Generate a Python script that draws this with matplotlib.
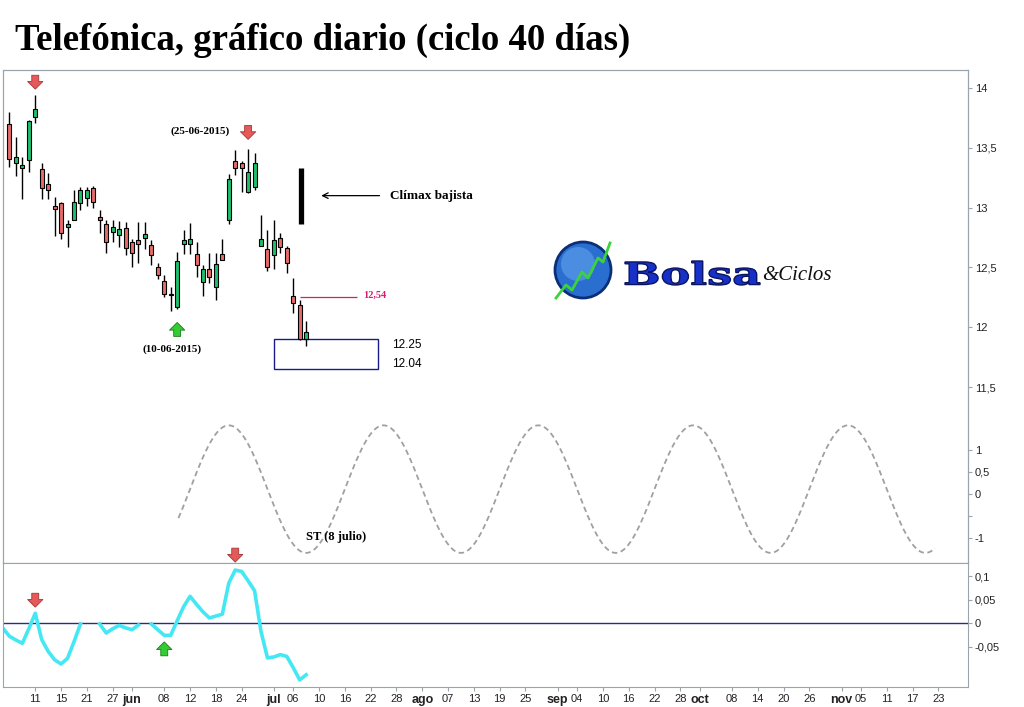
import numpy as np
import pandas as pd
import matplotlib
matplotlib.use("Agg")
import matplotlib.pyplot as plt
from matplotlib.patches import Rectangle, Ellipse, PathPatch
from matplotlib.textpath import TextPath
from matplotlib.font_manager import FontProperties
from matplotlib.transforms import Affine2D
import matplotlib.patheffects as pe

# trading days (business days) used as the x axis
DATES = pd.bdate_range("2015-05-04", "2015-12-31")

# daily candles 05-05-2015 .. 08-07-2015
candle_dates = pd.bdate_range("2015-05-05", "2015-07-08")
opens = [13.70, 13.37, 13.33, 13.40, 13.76, 13.32, 13.20, 13.01, 13.04, 12.84,
         12.90, 13.04, 13.08, 13.16, 12.92, 12.86, 12.80, 12.77, 12.83, 12.71,
         12.73, 12.75, 12.69, 12.50, 12.39, 12.27, 12.17, 12.70, 12.70, 12.61,
         12.38, 12.49, 12.34, 12.61, 12.90, 13.39, 13.37, 13.13, 13.17, 12.68,
         12.65, 12.60, 12.75, 12.66, 12.26, 12.19, 11.90]
highs = [13.80, 13.59, 13.42, 13.73, 13.94, 13.37, 13.29, 13.09, 13.05, 12.90,
         13.15, 13.17, 13.17, 13.18, 12.98, 12.90, 12.90, 12.89, 12.88, 12.74,
         12.88, 12.88, 12.73, 12.54, 12.44, 12.34, 12.63, 12.81, 12.87, 12.71,
         12.52, 12.62, 12.62, 12.74, 13.28, 13.48, 13.39, 13.49, 13.46, 12.94,
         12.81, 12.90, 12.79, 12.68, 12.41, 12.23, 12.05]
lows = [13.34, 13.26, 13.07, 13.30, 13.71, 13.07, 13.07, 12.76, 12.74, 12.67,
        12.90, 12.98, 13.01, 13.00, 12.79, 12.62, 12.71, 12.67, 12.60, 12.50,
        12.54, 12.65, 12.52, 12.40, 12.25, 12.14, 12.15, 12.61, 12.61, 12.42,
        12.26, 12.37, 12.23, 12.56, 12.86, 13.27, 13.13, 13.12, 13.15, 12.68,
        12.47, 12.49, 12.62, 12.45, 12.12, 11.89, 11.84]
closes = [13.41, 13.42, 13.36, 13.72, 13.82, 13.16, 13.15, 12.99, 12.79, 12.86,
          13.05, 13.15, 13.15, 13.05, 12.90, 12.71, 12.84, 12.82, 12.66, 12.62,
          12.70, 12.78, 12.60, 12.44, 12.28, 12.27, 12.55, 12.73, 12.74, 12.52,
          12.49, 12.42, 12.53, 12.56, 13.24, 13.33, 13.33, 13.30, 13.37, 12.74,
          12.50, 12.73, 12.67, 12.54, 12.20, 11.90, 11.96]

# oscillator 04-05-2015 .. 08-07-2015 (nan = line hidden in the original)
osc_dates = pd.bdate_range("2015-05-04", "2015-07-08")
osc_values = [-0.011, -0.028, -0.036, -0.043, -0.012, 0.021, -0.035, -0.060, -0.078,
              -0.087, -0.075, -0.040, -0.002, np.nan, np.nan, -0.002, -0.021, -0.012,
              -0.005, -0.010, -0.014, -0.004, np.nan, -0.002, -0.014, -0.026, -0.026,
              0.005, 0.035, 0.057, 0.040, 0.024, 0.011, 0.015, 0.019, 0.085, 0.113,
              0.110, 0.090, 0.069, -0.018, -0.074, -0.072, -0.067, -0.071, -0.095,
              -0.121, -0.110]

# cycle projection (40 calendar days ~ 24 sessions), trough on 08-07-2015
cycle_bars = 24
cycle_trough = "2015-07-08"
cycle_start, cycle_end = "2015-06-10", "2015-11-20"
cycle_amp, cycle_mid = 1.45, 0.11

tick_dates = ["2015-05-11", "2015-05-15", "2015-05-21", "2015-05-27", "2015-06-01",
              "2015-06-08", "2015-06-12", "2015-06-18", "2015-06-24", "2015-07-01",
              "2015-07-06", "2015-07-10", "2015-07-16", "2015-07-22", "2015-07-28",
              "2015-08-03", "2015-08-07", "2015-08-13", "2015-08-19", "2015-08-25",
              "2015-09-01", "2015-09-04", "2015-09-10", "2015-09-16", "2015-09-22",
              "2015-09-28", "2015-10-01", "2015-10-08", "2015-10-14", "2015-10-20",
              "2015-10-26", "2015-11-02", "2015-11-05", "2015-11-11", "2015-11-17",
              "2015-11-23"]
tick_labels = ["11", "15", "21", "27", "jun", "08", "12", "18", "24", "jul",
               "06", "10", "16", "22", "28", "ago", "07", "13", "19", "25",
               "sep", "04", "10", "16", "22", "28", "oct", "08", "14", "20",
               "26", "nov", "05", "11", "17", "23"]
months = {"jun", "jul", "ago", "sep", "oct", "nov"}

price_ticks = [11.5, 12, 12.5, 13, 13.5, 14]
price_labels = ["11,5", "12", "12,5", "13", "13,5", "14"]
cycle_ticks = [-1, -0.5, 0, 0.5, 1]
cycle_labels = ["-1", "", "0", "0,5", "1"]
osc_ticks = [-0.05, 0, 0.05, 0.1]
osc_labels = ["-0,05", "0", "0,05", "0,1"]


def pos(d):
    return DATES.get_loc(pd.Timestamp(d))


FRAME = "#9aa4ae"
SANS = "Liberation Sans"
SERIF = "Liberation Serif"

fig = plt.figure(figsize=(10.24, 7.07), dpi=100)
W, H = 1024, 707
ax = fig.add_axes([3 / W, (H - 563) / H, 965 / W, 493 / H])
axs = ax.twinx()
axo = fig.add_axes([3 / W, (H - 687) / H, 965 / W, 124 / H], sharex=ax)

# candles
x = np.array([pos(d) for d in candle_dates])
o, hi, lo, c = map(np.array, (opens, highs, lows, closes))
up = c >= o
ax.vlines(x, lo, hi, color="black", lw=1, zorder=2)
bottom = np.minimum(o, c)
height = np.maximum(np.abs(c - o), 0.006)
ax.bar(x, height, bottom=bottom, width=0.62,
       color=np.where(up, "#1fbf6f", "#e86b6b"), edgecolor="black", lw=0.8, zorder=3)

ax.set_xlim(0, 149.6)
ax.set_ylim(10.03, 14.15)
axs.set_ylim(-1.57, 9.64)
axo.set_ylim(-0.136, 0.128)

# cycle wave
t = np.linspace(pos(cycle_start) + 0.2, pos(cycle_end) + 0.5, 600)
wave = cycle_mid - cycle_amp * np.cos(2 * np.pi * (t - pos(cycle_trough)) / cycle_bars)
axs.plot(t, wave, color="#a0a0a0", lw=1.3, ls=(0, (3, 2)))

# oscillator
xo = np.array([pos(d) for d in osc_dates])
axo.axhline(0, color="#2a2a8a", lw=1)
axo.plot(xo, osc_values, color="#44e8f2", lw=2.6, solid_joinstyle="round")

# axes styling
for a in (ax, axs, axo):
    for s in a.spines.values():
        s.set_color(FRAME)
    a.tick_params(axis="y", which="both", left=False, labelleft=False, right=True,
                  labelright=True, direction="out", length=3, color=FRAME,
                  labelsize=8, labelcolor="#222222", pad=2)
ax.set_yticks(price_ticks, price_labels, family=SANS)
axs.set_yticks(cycle_ticks, cycle_labels, family=SANS)
axo.set_yticks(osc_ticks, osc_labels, family=SANS)
ax.tick_params(axis="x", bottom=False, labelbottom=False)
axo.set_xticks([pos(d) for d in tick_dates])
axo.set_xticklabels(tick_labels, family=SANS, fontsize=8, color="#222222")
for lab in axo.get_xticklabels():
    if lab.get_text() in months:
        lab.set_fontweight("bold")
        lab.set_fontsize(9)
axo.tick_params(axis="x", direction="out", length=3, color=FRAME, pad=2)


def fat_arrow(a, xd, yd, pointing_up, color, edge):
    off = -10 if pointing_up else 10
    a.annotate("", xy=(xd, yd), xytext=(0, off), textcoords="offset points",
               annotation_clip=False,
               arrowprops=dict(arrowstyle="simple,head_length=0.55,head_width=1.1,tail_width=0.5",
                               fc=color, ec=edge, lw=0.6, shrinkA=0, shrinkB=0))


RED, RED_E = "#e45a5a", "#a83434"
GRN, GRN_E = "#33cc33", "#1a7a1a"
fat_arrow(ax, pos("2015-05-11"), 13.99, False, RED, RED_E)
fat_arrow(ax, pos("2015-06-25"), 13.57, False, RED, RED_E)
fat_arrow(ax, pos("2015-06-10"), 12.04, True, GRN, GRN_E)
fat_arrow(axo, pos("2015-05-11"), 0.034, False, RED, RED_E)
fat_arrow(axo, pos("2015-06-08"), -0.040, True, GRN, GRN_E)
fat_arrow(axo, pos("2015-06-23"), 0.13, False, RED, RED_E)

# annotations on price panel
bold_serif = dict(family=SERIF, fontweight="bold")
ax.text(30.6, 13.64, "(25-06-2015)", ha="center", va="center", fontsize=8, **bold_serif)
ax.text(26.2, 11.82, "(10-06-2015)", ha="center", va="center", fontsize=8, **bold_serif)
ax.vlines(46.2, 12.86, 13.33, color="black", lw=3.8)
ax.annotate("", xy=(48.9, 13.10), xytext=(58.8, 13.10),
            arrowprops=dict(arrowstyle="->", color="black", lw=0.9))
ax.text(60, 13.10, "Clímax bajista", ha="left", va="center", fontsize=9.5, **bold_serif)
ax.hlines(12.254, 46.1, 54.9, color="#d81b72", lw=0.9)
ax.text(55.9, 12.27, "12,54", ha="left", va="center", fontsize=7.5, color="#d81b72", **bold_serif)
ax.add_patch(Rectangle((42.0, 11.65), 16.2, 0.25, fill=False, ec="#1a1a8c", lw=1))
ax.text(60.3, 11.85, "12.25", ha="left", va="center", fontsize=8.5, family=SANS)
ax.text(60.3, 11.69, "12.04", ha="left", va="center", fontsize=8.5, family=SANS)
axs.text(51.6, -0.98, "ST (8 julio)", ha="center", va="center", fontsize=9, **bold_serif)

# title
fig.text(15 / W, 1 - 40 / H, "Telefónica, gráfico diario (ciclo 40 días)",
         ha="left", va="center", fontsize=26.5, **bold_serif)

# logo
fig.patches.append(Ellipse((583 / W, 1 - 270 / H), 56 / W, 56 / H, transform=fig.transFigure,
                           fc="#2a6fd0", ec="#0a2f78", lw=2))
fig.patches.append(Ellipse((578 / W, 1 - 264 / H), 34 / W, 34 / H, transform=fig.transFigure,
                           fc="#5a9ae8", ec="none", alpha=0.7))
zx = np.array([556, 566, 572, 582, 588, 598, 603, 610]) / W
zy = 1 - np.array([298, 285, 290, 272, 278, 258, 262, 243]) / H
fig.lines.append(plt.Line2D(zx, zy, transform=fig.transFigure, color="#3cd23c", lw=2))

# "Bolsa" stretched wide like the original logo lettering
tp = TextPath((0, 0), "Bolsa", size=1,
              prop=FontProperties(family="DejaVu Serif", weight="bold"))
ext = tp.get_extents()
x0, x1, yb, yt = 625, 760, H - 285, H - 261
tr = (Affine2D().translate(-ext.x0, -ext.y0)
      .scale((x1 - x0) / ext.width, (yt - yb) / ext.height).translate(x0, yb))
fig.patches.append(PathPatch(tp, transform=tr, fc="#1630c8", ec="#0a1460", lw=1.0))
fig.text(762 / W, 1 - 276 / H, "&Ciclos", ha="left", va="center", fontsize=15,
         family=SERIF, style="italic", color="#111111")

fig.savefig("out.png", dpi=100)
